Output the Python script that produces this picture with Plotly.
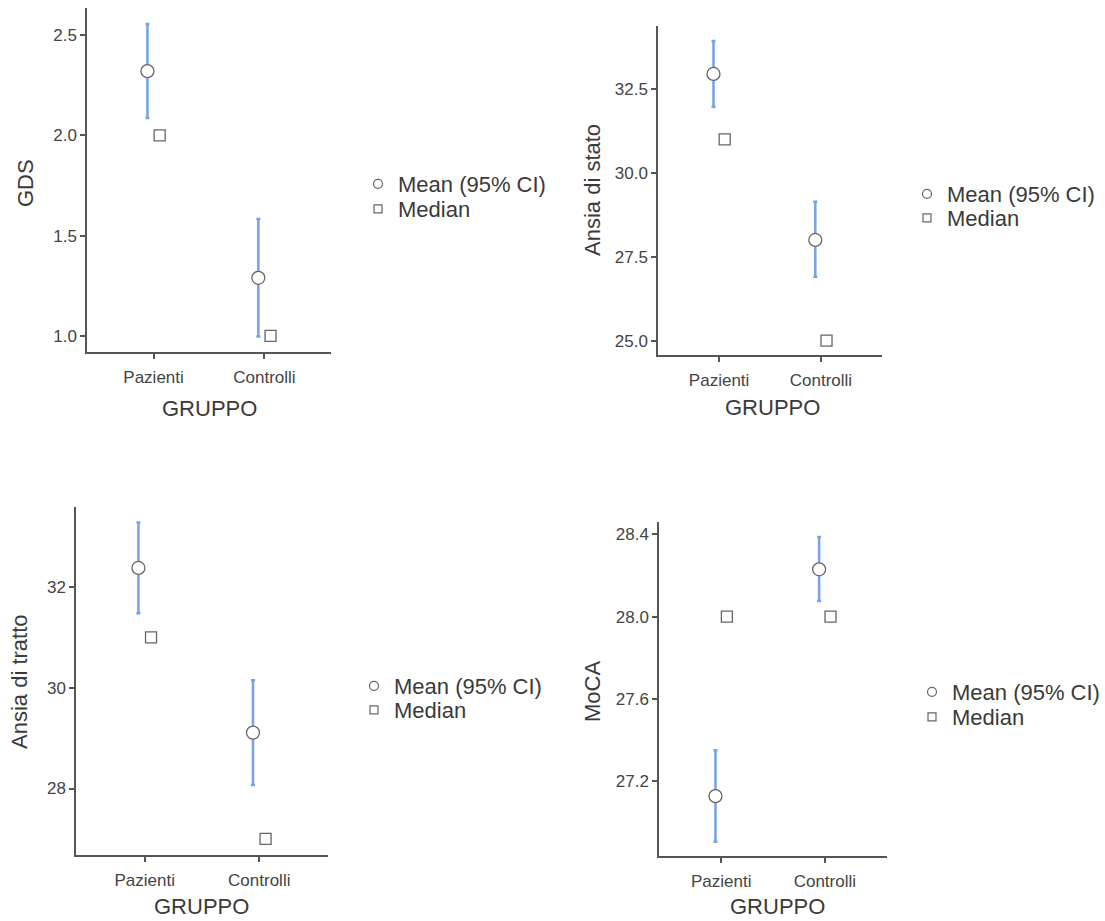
import plotly.graph_objects as go

W, H = 1105, 921

groups = ["Pazienti", "Controlli"]

panels = [
    dict(name="GDS", mean=[2.32, 1.29], lo=[2.086, 0.997], hi=[2.555, 1.583], median=[2.0, 1.0],
         yrange=[0.92, 2.635], ticks=[1.0, 1.5, 2.0, 2.5], ticktext=["1.0", "1.5", "2.0", "2.5"]),
    dict(name="Ansia di stato", mean=[32.95, 28.0], lo=[31.97, 26.9], hi=[33.93, 29.14], median=[31.0, 25.0],
         yrange=[24.57, 34.38], ticks=[25.0, 27.5, 30.0, 32.5], ticktext=["25.0", "27.5", "30.0", "32.5"]),
    dict(name="Ansia di tratto", mean=[32.38, 29.11], lo=[31.48, 28.07], hi=[33.28, 30.15], median=[31.0, 27.0],
         yrange=[26.68, 33.59], ticks=[28, 30, 32], ticktext=["28", "30", "32"]),
    dict(name="MoCA", mean=[27.127, 28.23], lo=[26.905, 28.076], hi=[27.35, 28.387], median=[28.0, 28.0],
         yrange=[26.836, 28.46], ticks=[27.2, 27.6, 28.0, 28.4], ticktext=["27.2", "27.6", "28.0", "28.4"]),
]

legend_labels = ["Mean (95% CI)", "Median"]

# pixel layout: (x_left, x_right, y_top, y_bottom)
boxes = [(87, 331, 8, 352), (658, 882, 26, 355), (76, 328, 507, 855), (659, 887, 522, 856)]
ytitle_pos = [(26, 183), (593, 190), (19, 682), (592, 692)]
xtitle_pos = [(209, 408), (772, 407), (201, 906), (777, 906)]
# legend symbol centre x, row centre y's
legend_pos = [(378, 184, 209), (927, 194, 218), (374, 686, 710), (932, 692, 717)]

FONT = "Liberation Sans, Arial, sans-serif"
TXT = "#3a3a3a"
AX = "#555555"
BLUE = "#76A2E8"
DODGE = 0.055

fig = go.Figure()
annotations = []
layout = {}
lcount = 0
for i, (p, b) in enumerate(zip(panels, boxes)):
    sfx = "" if i == 0 else str(i + 1)
    xa, ya = "x" + sfx, "y" + sfx
    xm = [k - DODGE for k in range(2)]
    xd = [k + DODGE for k in range(2)]
    fig.add_trace(go.Scatter(
        x=xm, y=p["mean"], mode="markers", xaxis=xa, yaxis=ya, showlegend=False,
        error_y=dict(type="data", symmetric=False,
                     array=[h - m for h, m in zip(p["hi"], p["mean"])],
                     arrayminus=[m - l for m, l in zip(p["mean"], p["lo"])],
                     color=BLUE, thickness=2.5, width=2),
        marker=dict(symbol="circle", size=13, color="white", line=dict(color="#666666", width=1.3)),
    ))
    fig.add_trace(go.Scatter(
        x=xd, y=p["median"], mode="markers", xaxis=xa, yaxis=ya, showlegend=False,
        marker=dict(symbol="square", size=11, color="white", line=dict(color="#666666", width=1.3)),
    ))
    # legend entries (one legend per row for exact placement)
    cx, ry1, ry2 = legend_pos[i]
    for lab, sym, sz, ry in [(legend_labels[0], "circle", 9, ry1), (legend_labels[1], "square", 8, ry2)]:
        lcount += 1
        lg = "legend" if lcount == 1 else "legend" + str(lcount)
        fig.add_trace(go.Scatter(x=[None], y=[None], mode="markers", xaxis=xa, yaxis=ya, name=lab,
                                 legend=lg, marker=dict(symbol=sym, size=sz, color="white",
                                                        line=dict(color="#666666", width=1.2))))
        layout[lg] = dict(x=(cx - 20) / W, y=1 - ry / H, xanchor="left", yanchor="middle",
                          font=dict(family=FONT, size=22, color=TXT), bgcolor="rgba(0,0,0,0)")
    x0, x1, y0, y1 = b
    common = dict(showline=True, linecolor=AX, linewidth=1.5, ticks="outside", ticklen=5,
                  tickcolor=AX, tickwidth=1.5, showgrid=False, zeroline=False,
                  tickfont=dict(family=FONT, size=17, color="#444444"))
    layout["xaxis" + sfx] = dict(domain=[x0 / W, x1 / W], anchor=ya, range=[-0.6, 1.6],
                                 tickvals=[0, 1], ticktext=groups, ticklabelstandoff=4, **common)
    layout["yaxis" + sfx] = dict(domain=[1 - y1 / H, 1 - y0 / H], anchor=xa, range=p["yrange"],
                                 tickvals=p["ticks"], ticktext=p["ticktext"], **common)
    tx, ty = ytitle_pos[i]
    annotations.append(dict(text=p["name"], x=tx / W, y=1 - ty / H, xref="paper", yref="paper",
                            showarrow=False, textangle=-90, xanchor="center", yanchor="middle",
                            font=dict(family=FONT, size=22, color=TXT)))
    tx, ty = xtitle_pos[i]
    annotations.append(dict(text="GRUPPO", x=tx / W, y=1 - ty / H, xref="paper", yref="paper",
                            showarrow=False, xanchor="center", yanchor="middle",
                            font=dict(family=FONT, size=22, color=TXT)))

fig.update_layout(width=W, height=H, margin=dict(l=0, r=0, t=0, b=0),
                  paper_bgcolor="white", plot_bgcolor="white",
                  annotations=annotations, **layout)
fig.write_html("out.html")
